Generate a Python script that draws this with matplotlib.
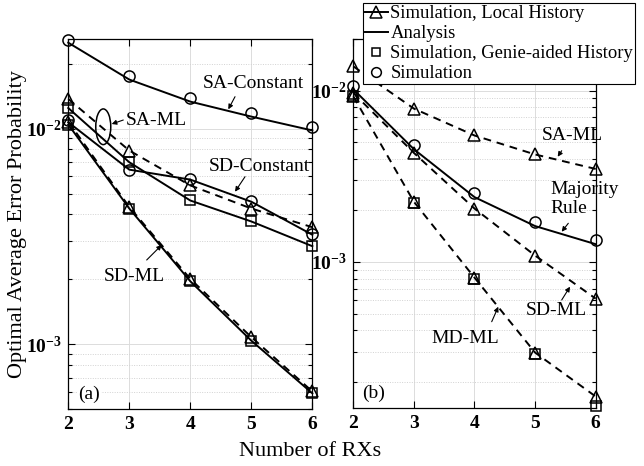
import matplotlib
matplotlib.use("Agg")
import matplotlib.pyplot as plt
from matplotlib.lines import Line2D
from matplotlib.patches import Ellipse
from matplotlib.ticker import LogLocator, NullFormatter, FixedLocator

plt.rcParams['font.family'] = ['Liberation Serif', 'DejaVu Serif']
plt.rcParams['mathtext.fontset'] = 'custom'
plt.rcParams['mathtext.rm'] = 'Liberation Serif'
plt.rcParams['mathtext.bf'] = 'Liberation Serif:bold'

# ---------------- data ----------------
rx = [2, 3, 4, 5, 6]
xtick_labels = ['2', '3', '4', '5', '6']
ytick_values = [1e-3, 1e-2]
ytick_labels = [r'$\mathbf{10^{-3}}$', r'$\mathbf{10^{-2}}$']

# panel (a)
a_sa_const_ana = [0.0250, 0.01687, 0.01333, 0.01136, 0.0098]
a_sa_const_sim = [0.0258, 0.01754, 0.01387, 0.01183, 0.0102]
a_sa_ml_ana = [0.01245, 0.00698, 0.00464, 0.00371, 0.00285]
a_sa_ml_genie = [0.01245, 0.00703, 0.00466, 0.00371, 0.00286]
a_sa_ml_local = [0.01372, 0.00791, 0.00545, 0.00426, 0.00349]
a_sd_const_ana = [0.0107, 0.00645, 0.00580, 0.00458, 0.00322]
a_sd_const_sim = [0.01101, 0.00645, 0.00585, 0.00464, 0.00325]
a_sd_ml_ana = [0.01044, 0.00426, 0.00196, 0.00104, 0.000593]
a_sd_ml_local = [0.01077, 0.00433, 0.00201, 0.00108, 0.000605]
a_sd_ml_genie = [0.01040, 0.00426, 0.00197, 0.00104, 0.000595]

# panel (b)
b_sa_ml_local = [0.01385, 0.00785, 0.00547, 0.00424, 0.00349]
b_mr_ana = [0.01018, 0.00455, 0.00239, 0.00162, 0.00127]
b_mr_sim = [0.0106, 0.00479, 0.00254, 0.00172, 0.00134]
b_sd_ml_local = [0.00968, 0.00433, 0.00205, 0.00109, 0.000611]
b_md_ml_local = [0.00926, 0.002245, 0.00081, 0.000296, 0.000164]
b_md_ml_genie = [0.0093, 0.00222, 0.000795, 0.000292, 0.000145]

legend_labels = ['Simulation, Local History', 'Analysis',
                 'Simulation, Genie-aided History', 'Simulation']

# ---------------- styles ----------------
LW = 1.4
MS = 8
MEW = 1.1
DASH = (0, (4, 3))
ANN_FS = 14
TICK_FS = 14
LABEL_FS = 16

fig = plt.figure(figsize=(6.44, 4.66), dpi=100)
axa = fig.add_axes([0.106, 0.1217, 0.379, 0.7946])
axb = fig.add_axes([0.5486, 0.1238, 0.3764, 0.7925])


def sim_local(ax, y):
    ax.plot(rx, y, color='k', ls=DASH, lw=LW, marker='^', ms=MS,
            mfc='none', mec='k', mew=MEW, clip_on=False, zorder=3)


def ana(ax, y):
    ax.plot(rx, y, color='k', ls='-', lw=LW, clip_on=False, zorder=3)


def genie(ax, y):
    ax.plot(rx, y, ls='none', marker='s', ms=MS - 1, mfc='none', mec='k',
            mew=MEW, clip_on=False, zorder=3)


def sim(ax, y):
    ax.plot(rx, y, ls='none', marker='o', ms=MS, mfc='none', mec='k',
            mew=MEW, clip_on=False, zorder=3)


# panel (a)
ana(axa, a_sa_const_ana); sim(axa, a_sa_const_sim)
ana(axa, a_sa_ml_ana); genie(axa, a_sa_ml_genie); sim_local(axa, a_sa_ml_local)
ana(axa, a_sd_const_ana); sim(axa, a_sd_const_sim)
ana(axa, a_sd_ml_ana); genie(axa, a_sd_ml_genie); sim_local(axa, a_sd_ml_local)

# panel (b)
sim_local(axb, b_sa_ml_local)
ana(axb, b_mr_ana); sim(axb, b_mr_sim)
sim_local(axb, b_sd_ml_local)
sim_local(axb, b_md_ml_local); genie(axb, b_md_ml_genie)

for ax, ylim in ((axa, (5e-4, 0.026)), (axb, (1.4e-4, 0.02))):
    ax.set_yscale('log')
    ax.set_xlim(2, 6)
    ax.set_ylim(*ylim)
    ax.set_xticks(rx)
    ax.set_xticklabels(xtick_labels, fontweight='bold', fontsize=TICK_FS)
    ax.yaxis.set_major_locator(FixedLocator(ytick_values))
    ax.set_yticklabels(ytick_labels, fontsize=TICK_FS)
    ax.yaxis.set_minor_locator(LogLocator(base=10, subs=range(2, 10), numticks=20))
    ax.yaxis.set_minor_formatter(NullFormatter())
    ax.tick_params(which='both', direction='in', top=True, right=True, width=0.8)
    ax.tick_params(which='major', length=5, pad=5)
    ax.tick_params(which='minor', length=3)
    ax.grid(True, which='major', color='#dcdcdc', lw=0.7, ls='-')
    ax.grid(True, which='minor', axis='y', color='#d2d2d2', lw=0.7, ls=(0, (1, 1.5)))
    ax.set_axisbelow(True)
    for s in ax.spines.values():
        s.set_linewidth(0.9)

# annotations (a)
arrow = dict(arrowstyle='-|>', lw=0.8, color='k', mutation_scale=7,
             shrinkA=0, shrinkB=0)
axa.text(0.757, 0.881, 'SA-Constant', transform=axa.transAxes,
         ha='center', va='center', fontsize=ANN_FS)
axa.annotate('', xy=(0.6557, 0.8101), xytext=(0.6832, 0.8442),
             xycoords='axes fraction', textcoords='axes fraction', arrowprops=arrow)
axa.text(0.3607, 0.7794, 'SA-ML', transform=axa.transAxes,
         ha='center', va='center', fontsize=ANN_FS)
axa.annotate('', xy=(0.1779, 0.7704), xytext=(0.2254, 0.7812),
             xycoords='axes fraction', textcoords='axes fraction', arrowprops=arrow)
axa.add_patch(Ellipse((0.1434, 0.763), 0.0615, 0.0964, transform=axa.transAxes,
                      fill=False, ec='k', lw=1.1, zorder=4))
axa.text(0.7816, 0.6551, 'SD-Constant', transform=axa.transAxes,
         ha='center', va='center', fontsize=ANN_FS)
axa.annotate('', xy=(0.6832, 0.5876), xytext=(0.7242, 0.6281),
             xycoords='axes fraction', textcoords='axes fraction', arrowprops=arrow)
axa.text(0.2693, 0.3581, 'SD-ML', transform=axa.transAxes,
         ha='center', va='center', fontsize=ANN_FS)
axa.annotate('', xy=(0.3828, 0.4437), xytext=(0.3213, 0.4032),
             xycoords='axes fraction', textcoords='axes fraction', arrowprops=arrow)
axa.text(0.0848, 0.0413, '(a)', transform=axa.transAxes, ha='center', va='center',
         fontsize=ANN_FS, bbox=dict(fc='white', ec='none', pad=1), zorder=5)

# annotations (b)
axb.text(0.9035, 0.740, 'SA-ML', transform=axb.transAxes,
         ha='center', va='center', fontsize=ANN_FS)
axb.annotate('', xy=(0.8432, 0.6813), xytext=(0.8597, 0.6975),
             xycoords='axes fraction', textcoords='axes fraction', arrowprops=arrow)
axb.text(0.8111, 0.566, 'Majority\nRule', transform=axb.transAxes,
         ha='left', va='center', fontsize=ANN_FS, linespacing=1.15)
axb.annotate('', xy=(0.8597, 0.4782), xytext=(0.887, 0.501),
             xycoords='axes fraction', textcoords='axes fraction', arrowprops=arrow)
axb.text(0.839, 0.2662, 'SD-ML', transform=axb.transAxes,
         ha='center', va='center', fontsize=ANN_FS)
axb.annotate('', xy=(0.894, 0.3293), xytext=(0.8597, 0.2933),
             xycoords='axes fraction', textcoords='axes fraction', arrowprops=arrow)
axb.text(0.4608, 0.1896, 'MD-ML', transform=axb.transAxes,
         ha='center', va='center', fontsize=ANN_FS)
axb.annotate('', xy=(0.5982, 0.2751), xytext=(0.571, 0.2345),
             xycoords='axes fraction', textcoords='axes fraction', arrowprops=arrow)
axb.text(0.0854, 0.0406, '(b)', transform=axb.transAxes, ha='center', va='center',
         fontsize=ANN_FS, bbox=dict(fc='white', ec='none', pad=1), zorder=5)

# axis labels
fig.text(0.481, 0.031, 'Number of RXs', ha='center', va='center', fontsize=LABEL_FS)
fig.text(0.027, 0.52, 'Optimal Average Error Probability', ha='center', va='center',
         rotation=90, fontsize=LABEL_FS)

# legend
handles = [
    Line2D([], [], color='k', lw=LW, marker='^', ms=MS, mfc='none', mew=MEW),
    Line2D([], [], color='k', lw=LW),
    Line2D([], [], ls='none', marker='s', ms=MS - 2, mfc='none', mec='k', mew=MEW),
    Line2D([], [], ls='none', marker='o', ms=MS - 1, mfc='none', mec='k', mew=MEW),
]
leg = fig.legend(handles, legend_labels, loc='upper left',
                 bbox_to_anchor=(0.5637, 0.9936), bbox_transform=fig.transFigure,
                 fontsize=13.4, frameon=True, fancybox=False, framealpha=1,
                 edgecolor='k', borderpad=0.12, handlelength=1.2,
                 handletextpad=0.15, labelspacing=0.16, borderaxespad=0)
leg.get_frame().set_linewidth(0.8)

fig.savefig('out.png', dpi=100)
